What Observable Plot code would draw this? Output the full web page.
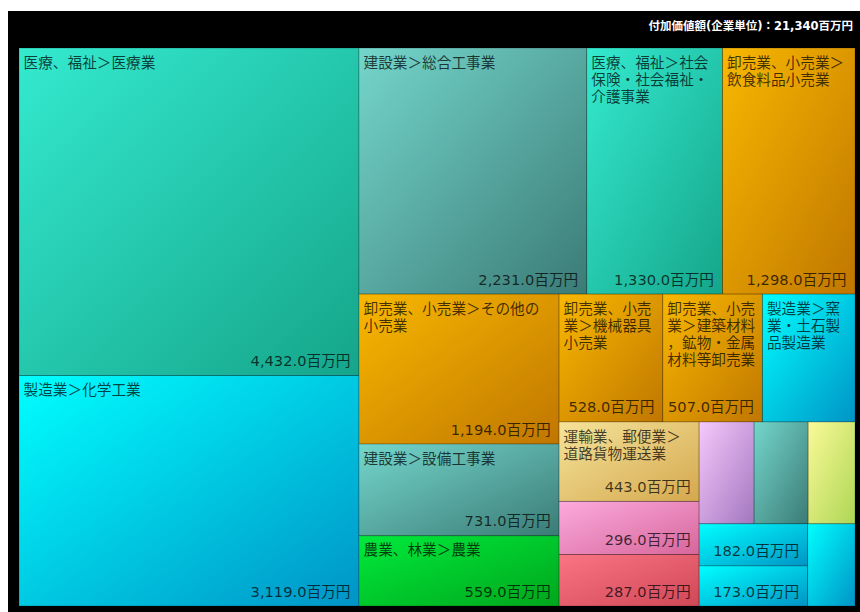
<!DOCTYPE html>
<html><head><meta charset="utf-8">
<script src="https://cdn.jsdelivr.net/npm/d3@7"></script>
<script src="https://cdn.jsdelivr.net/npm/@observablehq/plot@0.6"></script>
<style>
body{margin:0;background:#fff;}
#box{position:absolute;left:8px;top:11px;width:852px;height:601px;background:#000;overflow:hidden;}
#title{position:absolute;right:7px;top:6px;color:#fff;font:bold 11.5px "DejaVu Sans","Noto Sans CJK JP";white-space:nowrap;}
#chart{position:absolute;left:0;top:0;}
</style></head><body><div id="box"><div id="title"></div><div id="chart"></div></div>
<script>
const titleText = "付加価値額(企業単位)：21,340百万円";
const names = [
  "医療、福祉＞医療業",
  "製造業＞化学工業",
  "建設業＞総合工事業",
  "医療、福祉＞社会保険・社会福祉・介護事業",
  "卸売業、小売業＞飲食料品小売業",
  "卸売業、小売業＞その他の小売業",
  "卸売業、小売業＞機械器具小売業",
  "卸売業、小売業＞建築材料，鉱物・金属材料等卸売業",
  "製造業＞窯業・土石製品製造業",
  "建設業＞設備工事業",
  "農業、林業＞農業",
  "運輸業、郵便業＞道路貨物運送業",
  "宿泊業、飲食サービス業＞飲食店",
  "サービス業（他に分類されないもの）＞その他の事業サービス業",
  "生活関連サービス業、娯楽業＞洗濯・理容・美容・浴場業",
  "建設業＞職別工事業（設備工事業を除く）",
  "不動産業、物品賃貸業＞不動産賃貸業・管理業",
  "製造業＞食料品製造業",
  "製造業＞金属製品製造業",
  "製造業＞プラスチック製品製造業"
];
const values = [4432, 3119, 2231, 1330, 1298, 1194, 528, 507, 471, 731, 559, 443, 296, 287, 223, 219, 190, 182, 173, 155];
const categories = ["医療、福祉","製造業","建設業","卸売業、小売業","農業、林業","運輸業、郵便業","宿泊業、飲食サービス業","サービス業（他に分類されないもの）","生活関連サービス業、娯楽業","不動産業、物品賃貸業"];
const lightColors = ["#34eacf","#00ffff","#74d6cb","#f8b800","#00ea3c","#f5e39a","#fcaade","#fa7484","#f6c8fc","#fafa98"];
const darkColors  = ["#15a58a","#0094c6","#3b7b76","#c07600","#00a61c","#d4a84e","#d6669a","#d04858","#a277bf","#aed654"];

document.getElementById("title").textContent = titleText;

const W = 836, H = 558;
const root = d3.hierarchy({children: names.map((n, i) => ({name: n, value: values[i]}))})
  .sum(d => d.value || 0)
  .sort((a, b) => b.value - a.value);
d3.treemap().size([W, H]).tile(d3.treemapSquarify).round(false)(root);

const FS = 14.67;
const FONT = '"DejaVu Sans","Noto Sans CJK JP"';
const ctx = document.createElement("canvas").getContext("2d");
ctx.font = `${FS}px ${FONT}`;
function wrap(text, maxW) {
  const lines = []; let cur = "";
  for (const ch of text) {
    if (cur && ctx.measureText(cur + ch).width > maxW) { lines.push(cur); cur = ch; }
    else cur += ch;
  }
  if (cur) lines.push(cur);
  return lines;
}
const fmt = d3.format(",.1f");
const LH = 1.16;
const cells = root.leaves().map(l => {
  const w = l.x1 - l.x0, h = l.y1 - l.y0;
  const lines = wrap(l.data.name, w - 10);
  const valueText = fmt(l.data.value) + "百万円";
  const vw = ctx.measureText(valueText).width;
  return {
    name: l.data.name, value: l.data.value,
    cat: categories.findIndex(c => l.data.name.startsWith(c)),
    x0: l.x0, x1: l.x1, y0: l.y0, y1: l.y1,
    label: lines.join("\n"),
    showName: w > 30 && lines.length * FS * LH + 36 <= h,
    valueText,
    showValue: vw + 12 <= w && h >= 30
  };
});

const defs = () => {
  const d = d3.create("svg:defs");
  categories.forEach((c, i) => {
    const g = d.append("linearGradient").attr("id", "g" + i)
      .attr("x1", 0).attr("y1", 0).attr("x2", 1).attr("y2", 1);
    g.append("stop").attr("offset", 0).attr("stop-color", lightColors[i]);
    g.append("stop").attr("offset", 1).attr("stop-color", darkColors[i]);
  });
  return d.node();
};

const chart = Plot.plot({
  width: 852, height: 601,
  marginLeft: 11, marginRight: 5, marginTop: 37, marginBottom: 6,
  style: {background: "transparent", fontFamily: FONT, fontSize: FS + "px"},
  x: {domain: [0, W], axis: null},
  y: {domain: [0, H], reverse: true, axis: null},
  color: {type: "identity"},
  marks: [
    defs,
    Plot.rect(cells, {x1: "x0", x2: "x1", y1: "y0", y2: "y1", fill: d => `url(#g${d.cat})`, stroke: "rgba(0,0,0,0.22)", strokeWidth: 1}),
    Plot.text(cells.filter(d => d.showName), {x: "x0", y: "y0", text: "label", textAnchor: "start", lineAnchor: "top", dx: 4, dy: 7, fill: "#000", fillOpacity: 0.72, fontSize: FS, lineHeight: LH}),
    Plot.text(cells.filter(d => d.showValue), {x: "x1", y: "y1", text: "valueText", textAnchor: "end", lineAnchor: "bottom", dx: -9, dy: -10, fill: "#000", fillOpacity: 0.72, fontSize: FS})
  ]
});
document.getElementById("chart").appendChild(chart);
</script>
</body></html>
